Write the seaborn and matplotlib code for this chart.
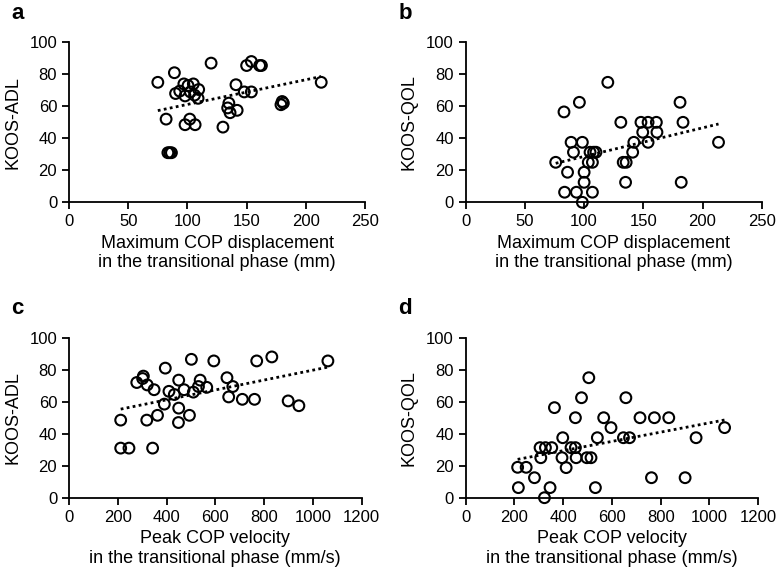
import matplotlib
matplotlib.use("Agg")
import matplotlib.pyplot as plt
import seaborn as sns

# --- data ---
# a: KOOS-ADL vs maximum COP displacement
disp_a = [75, 89, 82, 83.5, 85, 86.5, 90, 93.5, 97, 100.5, 105, 102.5, 98, 106, 109, 109.5,
          98, 102, 106.5, 120, 130, 135, 134, 136, 142, 141, 148, 154, 150, 154, 161, 162.5,
          179, 180, 181, 213]
adl_a = [75, 81, 52, 31, 31, 31, 68, 69.5, 74, 73, 74, 69, 66.5, 67, 65, 70.5,
         48.5, 52, 48.5, 87, 47, 62, 59, 56, 57.5, 73.5, 69, 69, 85.5, 88, 85.5, 85.5,
         61, 63, 62, 75]

# b: KOOS-QOL vs maximum COP displacement
disp_b = [83, 96, 120, 76, 86, 89, 91, 98.5, 83.5, 93.5, 98.5, 100, 100, 103.5, 107, 107,
          105, 108, 110, 131, 133, 135.5, 135, 141, 142, 149.5, 148, 154, 154, 161, 161.5,
          181, 183.5, 182, 213.5]
qol_b = [56.5, 62.5, 75, 25, 18.8, 37.5, 31.3, 37.5, 6.3, 6.3, 0, 12.5, 18.8, 25, 25, 6.3,
         31.3, 31.3, 31.3, 50, 25, 25, 12.5, 31.3, 37.5, 43.8, 50, 50, 37.5, 50, 43.8,
         62.5, 50, 12.5, 37.5]

# c: KOOS-ADL vs peak COP velocity
vel_c = [212, 212, 246, 343, 278, 302, 305, 321, 349, 319, 363, 395, 391, 410, 432, 450,
         450, 449, 472, 502, 494, 510, 538, 531, 565, 594, 648, 672, 655, 711, 761, 770,
         832, 899, 943, 1062]
adl_c = [48.5, 31, 31, 31, 72, 74.5, 76, 70.5, 67.5, 48.5, 51.5, 81, 58.5, 66.5, 64.5, 73.5,
         56, 47, 67.5, 86.5, 51.5, 66, 73.5, 69.5, 69, 85.5, 75, 69.5, 63, 61.5, 61.5, 85.5,
         88, 60.5, 57.5, 85.5]

# d: KOOS-QOL vs peak COP velocity
vel_d = [213, 216, 248, 282, 305, 308, 327, 323, 346, 353, 364, 395, 398, 412, 432, 450,
         450, 453, 475, 497, 514, 505, 532, 540, 566, 596, 647, 657, 672, 715, 762, 774,
         833, 900, 945, 1062]
qol_d = [19, 6.3, 19, 12.5, 31.3, 25, 31.3, 0, 6.3, 31.3, 56.3, 25, 37.5, 18.8, 31.3, 31.3,
         50, 25, 62.5, 25, 25, 75, 6.3, 37.5, 50, 43.8, 37.5, 62.5, 37.5, 50, 12.5, 50,
         50, 12.5, 37.5, 43.8]

xlab_disp = "Maximum COP displacement\nin the transitional phase (mm)"
xlab_vel = "Peak COP velocity\nin the transitional phase (mm/s)"

sns.set_style("ticks")
plt.rcParams['font.family'] = ['Liberation Sans', 'DejaVu Sans']
plt.rcParams.update({"text.color": "black", "axes.labelcolor": "black",
                     "xtick.color": "black", "ytick.color": "black"})

fig = plt.figure(figsize=(7.78, 5.79), dpi=100)

panels = [
    ("a", disp_a, adl_a, "KOOS-ADL", xlab_disp, 250, 50, [0.0887, 0.6506, 0.3805, 0.2763]),
    ("b", disp_b, qol_b, "KOOS-QOL", xlab_disp, 250, 50, [0.5986, 0.6506, 0.3805, 0.2763]),
    ("c", vel_c, adl_c, "KOOS-ADL", xlab_vel, 1200, 200, [0.0887, 0.1404, 0.376, 0.2763]),
    ("d", vel_d, qol_d, "KOOS-QOL", xlab_vel, 1200, 200, [0.5986, 0.1404, 0.376, 0.2763]),
]

for letter, x, y, ylab, xlab, xmax, xstep, pos in panels:
    ax = fig.add_axes(pos)
    sns.scatterplot(x=x, y=y, ax=ax, marker="o", s=60, facecolor="none",
                    edgecolor="black", linewidth=1.5, clip_on=False, zorder=3)
    sns.regplot(x=x, y=y, ax=ax, scatter=False, ci=None, truncate=True,
                line_kws=dict(color="black", linestyle=(0, (1, 1.2)), linewidth=2))
    ax.set_xlim(0, xmax)
    ax.set_ylim(0, 100)
    ax.set_xticks(range(0, xmax + 1, xstep))
    ax.set_yticks(range(0, 101, 20))
    ax.set_xlabel(xlab, fontsize=13)
    ax.set_ylabel(ylab, fontsize=13, labelpad=6)
    ax.tick_params(labelsize=12, width=1.3, length=5, color="black")
    for s in ["left", "bottom"]:
        ax.spines[s].set_linewidth(1.3)
        ax.spines[s].set_color("black")
    sns.despine(ax=ax)
    fx = 0.014 if pos[0] < 0.5 else 0.512
    fy = pos[1] + pos[3] + 0.05
    fig.text(fx, fy, letter, fontsize=16, fontweight="bold", va="center")

fig.savefig("out.png", dpi=100)
